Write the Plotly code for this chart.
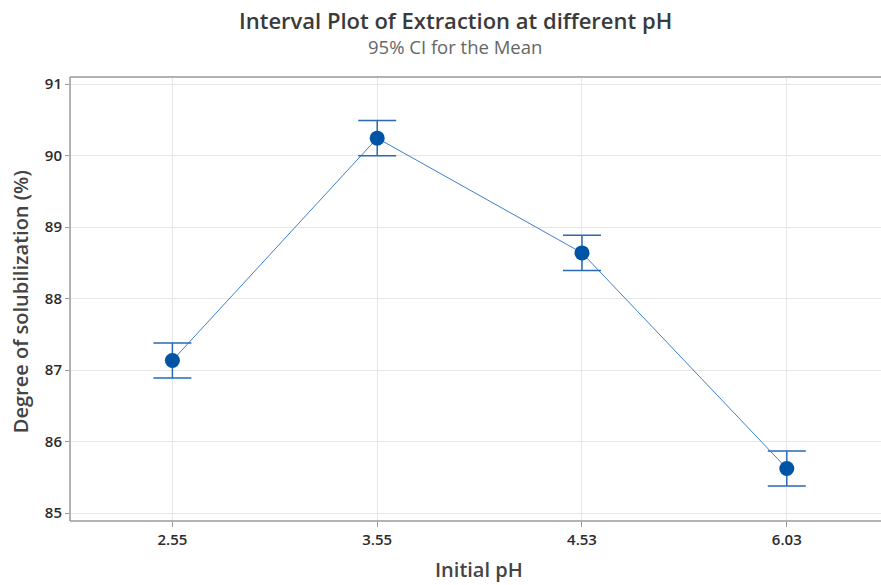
import plotly.graph_objects as go

ph_labels = ["2.55", "3.55", "4.53", "6.03"]
means = [87.135, 90.245, 88.64, 85.625]
ci_half = [0.245, 0.245, 0.245, 0.245]
y_ticks = [85, 86, 87, 88, 89, 90, 91]

FONT = "Open Sans"
fig = go.Figure()
fig.add_trace(go.Scatter(
    x=ph_labels, y=means, mode="lines",
    line=dict(color="#3d7fcc", width=1),
    hoverinfo="skip", showlegend=False,
))
fig.add_trace(go.Scatter(
    x=ph_labels, y=means, mode="markers",
    marker=dict(color="#0054a6", size=15),
    error_y=dict(type="data", array=ci_half, visible=True,
                 color="#2a69b6", thickness=1.5, width=19),
    showlegend=False,
))

fig.update_layout(
    width=881, height=585,
    margin=dict(l=70, r=0, t=77, b=64),
    paper_bgcolor="white", plot_bgcolor="white",
    font=dict(family=FONT, color="#333333"),
    xaxis=dict(
        type="category", range=[-0.5, 3.46],
        showgrid=True, gridcolor="#e6e6e6", gridwidth=1,
        showline=False,
        ticks="outside", ticklen=5, tickcolor="#9a9a9a",
        tickfont=dict(size=15, family=FONT, color="#2b2b2b", weight=600),
        zeroline=False,
    ),
    yaxis=dict(
        range=[84.89, 91.1], tickvals=y_ticks,
        showgrid=True, gridcolor="#e6e6e6", gridwidth=1,
        showline=False,
        ticks="outside", ticklen=4, tickcolor="#9a9a9a",
        tickfont=dict(size=15, family=FONT, color="#2b2b2b", weight=600),
        zeroline=False,
    ),
    shapes=[
        dict(type="line", xref="paper", yref="paper", x0=0, x1=0, y0=0, y1=1,
             line=dict(color="#9a9a9a", width=1.5)),
        dict(type="line", xref="paper", yref="paper", x0=0, x1=1, y0=0, y1=0,
             line=dict(color="#9a9a9a", width=1.5)),
        dict(type="line", xref="paper", yref="paper", x0=0, x1=1, y0=1, y1=1,
             line=dict(color="#9a9a9a", width=1.5)),
    ],
    annotations=[
        dict(text="Interval Plot of Extraction at different pH", xref="paper", yref="paper",
             x=0.475, y=1.128, xanchor="center", yanchor="middle", showarrow=False,
             font=dict(size=22, family=FONT, color="#3a3a3a", weight=600)),
        dict(text="95% CI for the Mean", xref="paper", yref="paper",
             x=0.475, y=1.0676, xanchor="center", yanchor="middle", showarrow=False,
             font=dict(size=18.5, family=FONT, color="#666666")),
        dict(text="Initial pH", xref="paper", yref="paper",
             x=0.504, y=-0.11, xanchor="center", yanchor="middle", showarrow=False,
             font=dict(size=20, family=FONT, color="#444444", weight=600)),
        dict(text="Degree of solubilization (%)", xref="paper", yref="paper",
             x=-0.0617, y=0.495, xanchor="center", yanchor="middle", showarrow=False,
             textangle=-90,
             font=dict(size=20, family=FONT, color="#444444", weight=600)),
    ],
)

fig.write_html("out.html")
